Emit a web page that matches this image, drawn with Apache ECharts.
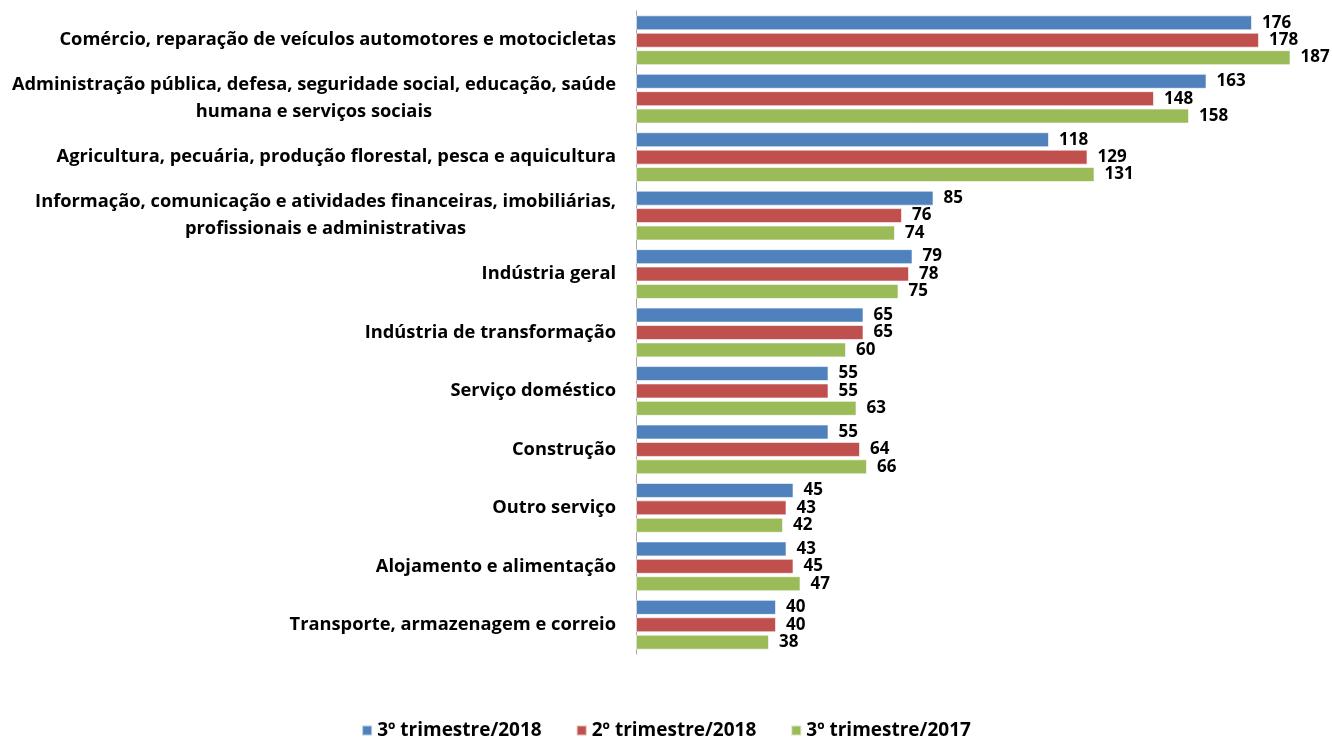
<!DOCTYPE html>
<html><head><meta charset="utf-8">
<script src="https://cdn.jsdelivr.net/npm/echarts@6/dist/echarts.min.js"></script>
<style>html,body{margin:0;padding:0;background:#fff}#c{width:1332px;height:737px}</style>
</head><body><div id="c"></div>
<script>
const categories = [
  "Comércio, reparação de veículos automotores e motocicletas",
  "Administração pública, defesa, seguridade social, educação, saúde\nhumana e serviços sociais",
  "Agricultura, pecuária, produção florestal, pesca e aquicultura",
  "Informação, comunicação e atividades financeiras, imobiliárias,\nprofissionais e administrativas",
  "Indústria geral",
  "Indústria de transformação",
  "Serviço doméstico",
  "Construção",
  "Outro serviço",
  "Alojamento e alimentação",
  "Transporte, armazenagem e correio"
];
const seriesNames = ["3º trimestre/2018", "2º trimestre/2018", "3º trimestre/2017"];
const t3_2018 = [176, 163, 118, 85, 79, 65, 55, 55, 45, 43, 40];
const t2_2018 = [178, 148, 129, 76, 78, 65, 55, 64, 43, 45, 40];
const t3_2017 = [187, 158, 131, 74, 75, 60, 63, 66, 42, 47, 38];
const colors = ["#4F81BD", "#C0504D", "#9BBB59"];

const FONT = "Open Sans";
const chart = echarts.init(document.getElementById('c'), null, {renderer: 'canvas'});
function mk(name, data, color) {
  return {
    name: name, type: 'bar', data: data,
    barWidth: 15, barGap: '16%',
    itemStyle: {color: color, borderColor: 'rgba(255,255,255,0.6)', borderWidth: 1},
    label: {show: true, position: 'right', distance: 10, color: '#000',
      fontFamily: FONT, fontWeight: 'bold', fontSize: 17},
    emphasis: {disabled: true}
  };
}
chart.setOption({
  animation: false,
  color: colors,
  grid: {left: 636, top: 11, width: 665, height: 643, containLabel: false},
  xAxis: {type: 'value', min: 0, max: 190, show: false},
  yAxis: {
    type: 'category', data: categories, inverse: true,
    axisLine: {show: true, lineStyle: {color: '#A6A6A6', width: 1}},
    axisTick: {show: false},
    axisLabel: {
      margin: 20, color: '#000', fontFamily: FONT, fontWeight: 'bold', fontSize: 18.3,
      align: 'right', lineHeight: 27,
      formatter: function (v) {
        return v.split('\n').map(s => '{c|' + s + '}').join('\n');
      },
      rich: {c: {align: 'center', fontFamily: FONT, fontWeight: 'bold', fontSize: 18.3, color: '#000', lineHeight: 27}}
    }
  },
  legend: {
    top: 716, left: 'center', itemWidth: 10, itemHeight: 10, itemGap: 34,
    icon: 'rect',
    textStyle: {fontFamily: FONT, fontWeight: 'bold', fontSize: 19, color: '#000'},
    data: seriesNames
  },
  series: [mk(seriesNames[0], t3_2018, colors[0]), mk(seriesNames[1], t2_2018, colors[1]), mk(seriesNames[2], t3_2017, colors[2])]
});
</script></body></html>
